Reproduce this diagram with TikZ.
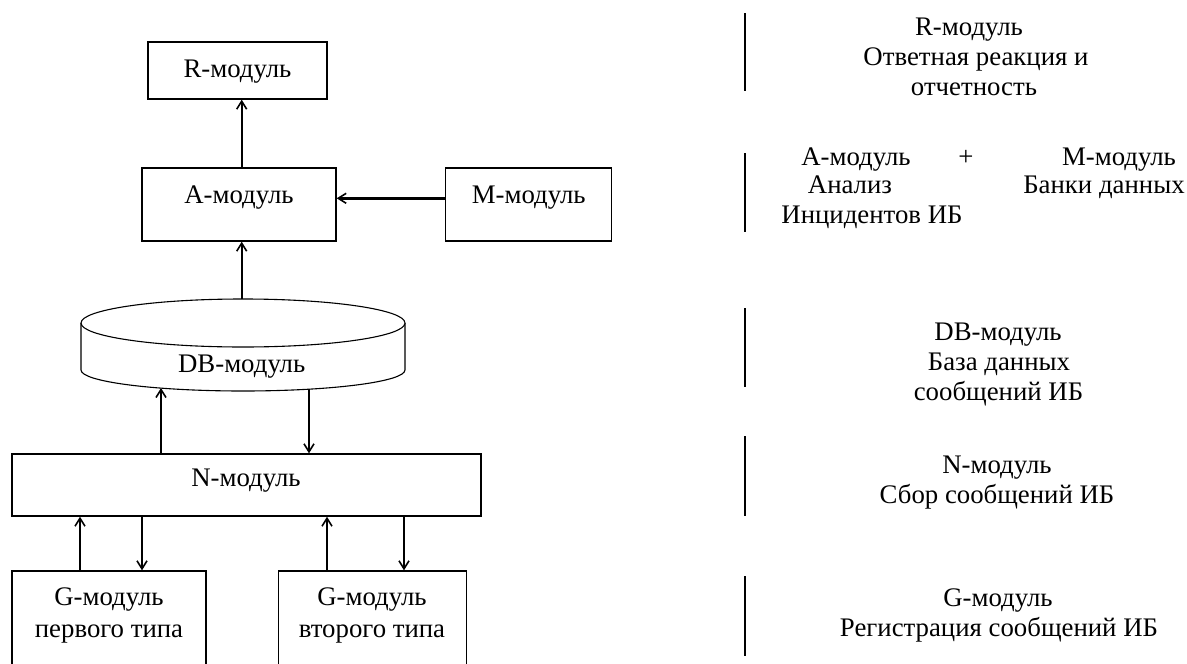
\documentclass[tikz,border=0pt]{standalone}
\usepackage{fontspec}
\setmainfont{Liberation Serif}
\usetikzlibrary{arrows.meta}
\begin{document}
\begin{tikzpicture}[x=1pt,y=-1pt,
  box/.style={draw, line width=1.4pt, inner sep=0pt},
  arr/.style={line width=2.4pt, -{Straight Barb[length=8pt,width=10pt,line width=1.6pt]}},
  bar/.style={line width=2.8pt},
  lbl/.style={font=\fontsize{26.8}{30}\selectfont, inner sep=0pt, anchor=base}]
\clip (0,0) rectangle (1187,664);
\fill[white] (0,0) rectangle (1187,664);
% boxes
\node[box, minimum width=179pt, minimum height=57pt] (R) at (237.5,70.5) {};
\node[box, minimum width=194pt, minimum height=73pt] (A) at (239,204.5) {};
\node[box, minimum width=166pt, minimum height=73pt] (M) at (528.7,204.5) {};
\node[box, minimum width=469pt, minimum height=62pt] (N) at (246.5,485) {};
\node[box, minimum width=194pt, minimum height=120pt] (G1) at (109,631) {};
\node[box, minimum width=188pt, minimum height=120pt] (G2) at (372.5,631) {};
% cylinder
\draw[line width=1.1pt, fill=white] (81,323) -- (81,370) arc[start angle=180, end angle=0, x radius=162, y radius=21] -- (405,323);
\draw[line width=1.1pt, fill=white] (243,323) ellipse[x radius=162, y radius=24];
\node[inner sep=0pt, minimum width=324pt, minimum height=92pt] (DB) at (243,345) {};
% box texts
\node[lbl] (tR) at (237.5,77.3) {R-модуль};
\node[lbl] (tA) at (239,203.3) {А-модуль};
\node[lbl] (tM) at (528.7,203.3) {М-модуль};
\node[lbl] (tDB) at (241.7,372.7) {DB-модуль};
\node[lbl] (tN) at (246,486.7) {N-модуль};
\node[lbl] (tG1a) at (109,605.5) {G-модуль};
\node[lbl] (tG1b) at (109,637.5) {первого типа};
\node[lbl] (tG2a) at (372,605.5) {G-модуль};
\node[lbl] (tG2b) at (372,637.5) {второго типа};
% connector coordinates
\coordinate (dbTop) at (241.7,299);
\coordinate (dbB1) at (161,388);
\coordinate (dbB2) at (309,389.2);
% connectors
\draw[arr] (A.north -| dbTop) -- (R.south -| dbTop);
\draw[arr] (M.west |- 0,198.3) -- (A.east |- 0,198.3);
\draw[arr] (dbTop) -- (A.south -| dbTop);
\draw[arr] (N.north -| dbB1) -- (dbB1);
\draw[arr] (dbB2) -- (N.north -| dbB2);
\draw[arr] (G1.north -| 80,0) -- (N.south -| 80,0);
\draw[arr] (N.south -| 142,0) -- (G1.north -| 142,0);
\draw[arr] (G2.north -| 327,0) -- (N.south -| 327,0);
\draw[arr] (N.south -| 404,0) -- (G2.north -| 404,0);
% right legend bars
\draw[bar] (745,13) coordinate (b1s) -- (745,91) coordinate (b1e);
\draw[bar] (745,153) coordinate (b2s) -- (745,232) coordinate (b2e);
\draw[bar] (745,308) coordinate (b3s) -- (745,387) coordinate (b3e);
\draw[bar] (745,436) coordinate (b4s) -- (745,516) coordinate (b4e);
\draw[bar] (745,576) coordinate (b5s) -- (745,656) coordinate (b5e);
% right legend texts
\node[lbl] (r1) at (969,35) {R-модуль};
\node[lbl] (r2) at (976,65) {Ответная реакция и};
\node[lbl] (r3) at (974,95) {отчетность};
\node[lbl] (a1) at (856,165) {А-модуль};
\node[lbl] (plus) at (966,165) {+};
\node[lbl] (m1) at (1119,165) {М-модуль};
\node[lbl] (a2) at (850,193.3) {Анализ};
\node[lbl] (m2) at (1104,193.3) {Банки данных};
\node[lbl] (a3) at (872,223) {Инцидентов ИБ};
\node[lbl] (d1) at (998,340) {DB-модуль};
\node[lbl] (d2) at (999,370) {База данных};
\node[lbl] (d3) at (998.5,400) {сообщений ИБ};
\node[lbl] (n1) at (997,473.3) {N-модуль};
\node[lbl] (n2) at (997,503.3) {Сбор сообщений ИБ};
\node[lbl] (g1) at (998,606.7) {G-модуль};
\node[lbl] (g2) at (999,636.7) {Регистрация сообщений ИБ};
\end{tikzpicture}
\end{document}
